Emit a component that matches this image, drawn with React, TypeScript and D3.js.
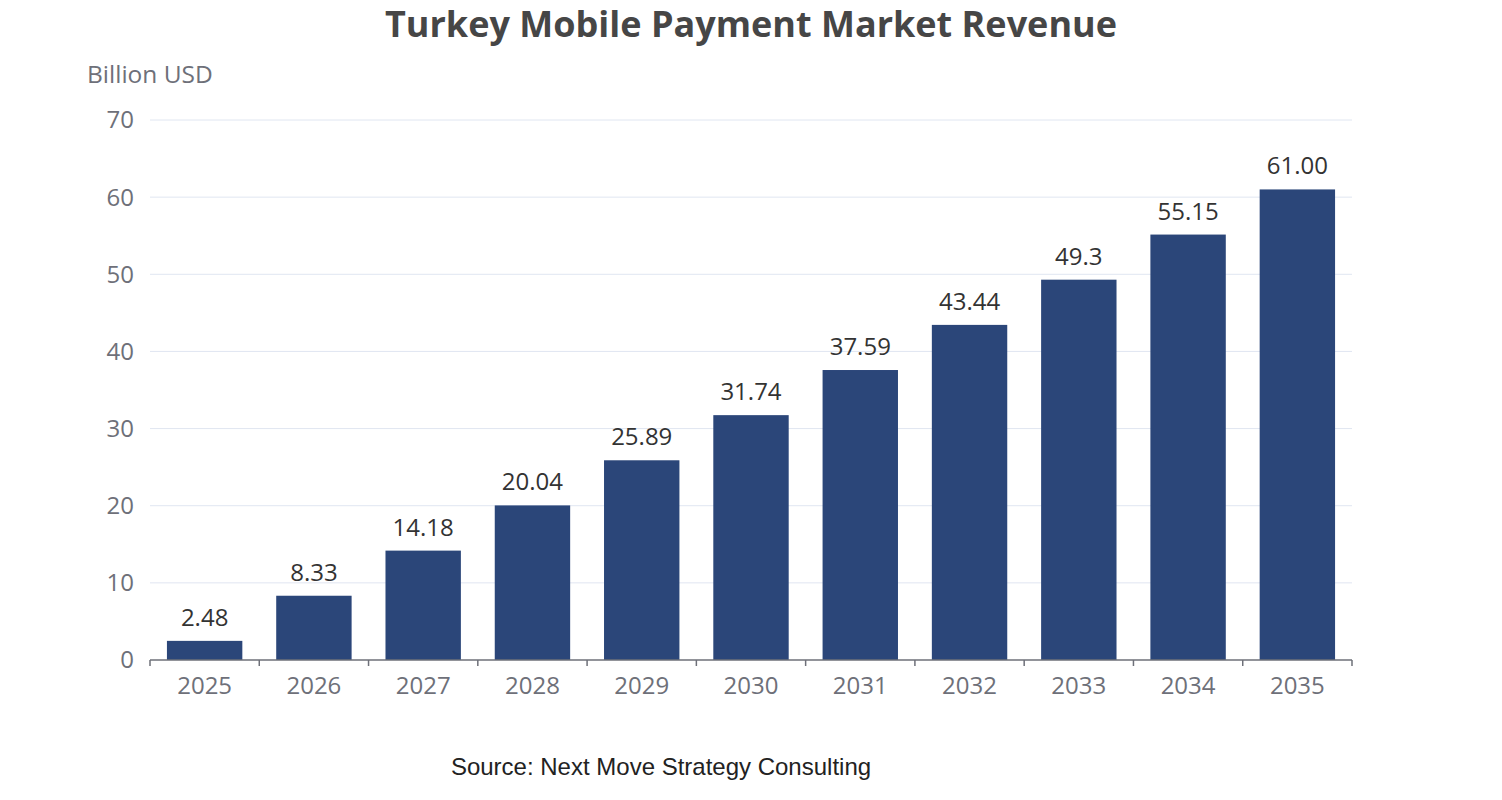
import React from "react";
import * as d3 from "d3";

const years = ["2025","2026","2027","2028","2029","2030","2031","2032","2033","2034","2035"];
const revenue = [2.48, 8.33, 14.18, 20.04, 25.89, 31.74, 37.59, 43.44, 49.3, 55.15, 61.0];
const valueLabels = ["2.48","8.33","14.18","20.04","25.89","31.74","37.59","43.44","49.3","55.15","61.00"];
const yTicks = [0, 10, 20, 30, 40, 50, 60, 70];

const W = 1502, H = 800;
const left = 150, right = 1352, top = 120, bottom = 660;
const font = "'Open Sans', 'Noto Sans', sans-serif";

export default function App() {
  const x = d3.scaleBand<string>().domain(years).range([left, right]).paddingInner(0.31).paddingOuter(0.155);
  const band = d3.scaleBand<string>().domain(years).range([left, right]);
  const y = d3.scaleLinear().domain([0, 70]).range([bottom, top]);
  return (
    <svg width={W} height={H} style={{ position: "absolute", left: 0, top: 0, background: "#fff" }}>
      <text x={751} y={37} textAnchor="middle" fontFamily={font} fontWeight="bold" fontSize={36} fill="#464646">
        Turkey Mobile Payment Market Revenue
      </text>
      <text x={87} y={83} fontFamily={font} fontSize={24.5} fill="#6e7079">Billion USD</text>
      {yTicks.map(t => (
        <g key={t}>
          {t > 0 && <line x1={left} x2={right} y1={y(t)} y2={y(t)} stroke="#e0e6f1" strokeWidth={1} />}
          <text x={134} y={y(t)} dy="0.35em" textAnchor="end" fontFamily={font} fontSize={24} fill="#6e7079">{t}</text>
        </g>
      ))}
      {years.map((yr, i) => (
        <g key={yr}>
          <rect x={x(yr)} y={y(revenue[i])} width={x.bandwidth()} height={bottom - y(revenue[i])} fill="#2b4679" />
          <text x={x(yr)! + x.bandwidth() / 2} y={y(revenue[i]) - 15} textAnchor="middle" fontFamily={font} fontSize={24} fill="#333">{valueLabels[i]}</text>
          <text x={band(yr)! + band.bandwidth() / 2} y={686} dy="0.35em" textAnchor="middle" fontFamily={font} fontSize={24} fill="#6e7079">{yr}</text>
        </g>
      ))}
      <line x1={left} x2={right} y1={bottom} y2={bottom} stroke="#6e7079" strokeWidth={1.5} />
      {[...years.map(yr => band(yr)!), right].map((tx, i) => (
        <line key={i} x1={tx} x2={tx} y1={bottom} y2={bottom + 6} stroke="#6e7079" strokeWidth={1.5} />
      ))}
      <text x={661} y={775} textAnchor="middle" fontFamily="'Liberation Sans', Arial, sans-serif" fontSize={24} fill="#222">
        Source: Next Move Strategy Consulting
      </text>
    </svg>
  );
}
